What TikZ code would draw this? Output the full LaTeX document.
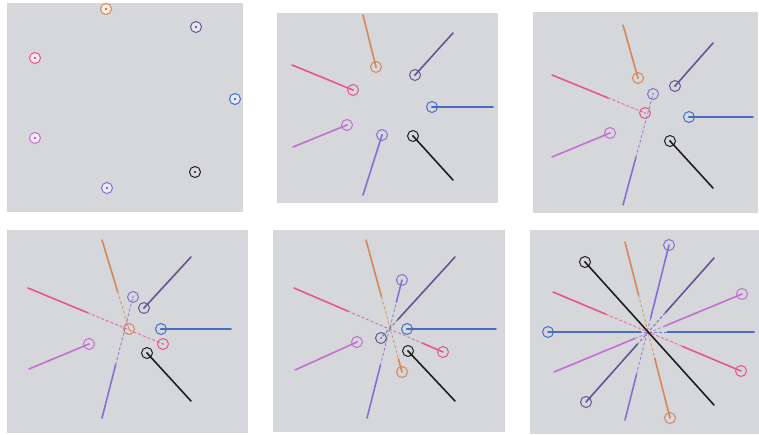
\documentclass[tikz,border=0pt]{standalone}
\usetikzlibrary{calc}
\definecolor{bgG}{RGB}{213,215,218}
\definecolor{orC}{RGB}{214,135,85}
\definecolor{puC}{RGB}{100,85,150}
\definecolor{pkC}{RGB}{228,85,145}
\definecolor{blC}{RGB}{70,110,195}
\definecolor{ocC}{RGB}{195,110,210}
\definecolor{viC}{RGB}{135,110,210}
\definecolor{bkC}{RGB}{30,30,30}
\tikzset{
  panel/.style={fill=bgG,draw=none},
  trail/.style={line width=1.6pt,line cap=round},
  dtrail/.style={line width=0.9pt,densely dashed,opacity=0.8},
  ptc/.style={circle,minimum size=11pt,inner sep=0pt,line width=1pt},
  dotc/.style={circle,fill,minimum size=2.2pt,inner sep=0pt}
}
\newcommand\trl[5]{%
  \draw[trail,#1] (#2) -- ($(#2)!#4!(#3)$);
  \draw[dtrail,#1] ($(#2)!#4!(#3)$) -- ($(#2)!#5!(#3)$);
  \draw[trail,#1] ($(#2)!#5!(#3)$) -- (#3);
  \node[ptc,draw=#1] at (#3) {};
}
\newcommand\pt[2]{%
  \node[ptc,draw=#1,fill=#1!15] at (#2) {};
  \node[dotc,#1!70!black] at (#2) {};
}
\begin{document}
\begin{tikzpicture}[x=1pt,y=-1pt]
\useasboundingbox (0,0) rectangle (759,434);
\fill[white] (0,0) rectangle (759,434);
% panels
\fill[panel] (7,3) rectangle (243,212);
\fill[panel] (277,13) rectangle (498,203);
\fill[panel] (533,12) rectangle (758,213);
\fill[panel] (7,230) rectangle (248,433);
\fill[panel] (273,230) rectangle (505,432);
\fill[panel] (530,230) rectangle (759,434);
% panel 1
\pt{orC}{106,9}
\pt{puC}{196,27}
\pt{pkC}{35,58}
\pt{blC}{235,99}
\pt{ocC}{35,138}
\pt{bkC}{195,172}
\pt{viC}{107,188}
% panel 2
\trl{orC}{363,15}{376,67}{1}{1}
\trl{puC}{453,33}{415,75}{1}{1}
\trl{pkC}{292,65}{353,90}{1}{1}
\trl{blC}{493,107}{432,107}{1}{1}
\trl{ocC}{293,147}{347,125}{1}{1}
\trl{viC}{363,195}{382,135}{1}{1}
\trl{bkC}{453,180}{413,136}{1}{1}
% panel 3
\trl{orC}{623,25}{638,78}{1}{1}
\trl{puC}{713,43}{675,86}{1}{1}
\trl{viC}{623,205}{653,94}{0.43}{1}
\trl{pkC}{552,75}{645,113}{0.6}{1}
\trl{blC}{753,117}{689,117}{1}{1}
\trl{ocC}{552,157}{610,133}{1}{1}
\trl{bkC}{713,188}{670,141}{1}{1}
% panel 4
\trl{orC}{102,240}{129,329}{0.58}{1}
\trl{pkC}{28,288}{163,344}{0.44}{1}
\trl{viC}{102,418}{133,297}{0.44}{1}
\trl{puC}{191,257}{144,308}{1}{1}
\trl{blC}{231,329}{161,329}{1}{1}
\trl{ocC}{29,369}{89,344}{1}{1}
\trl{bkC}{191,401}{147,353}{1}{1}
% panel 5
\trl{orC}{366,240}{402,372}{0.43}{0.9}
\trl{viC}{367,418}{402,280}{0.38}{0.84}
\trl{puC}{455,257}{381,338}{0.77}{1}
\trl{pkC}{294,288}{443,352}{0.36}{0.86}
\trl{blC}{496,329}{407,329}{1}{1}
\trl{ocC}{295,370}{357,342}{1}{1}
\trl{bkC}{455,401}{408,351}{1}{1}
% panel 6
\trl{viC}{625,420}{669,245}{0.26}{0.58}
\trl{orC}{625,242}{670,418}{0.3}{0.66}
\trl{puC}{714,258}{586,402}{0.38}{0.6}
\trl{pkC}{553,292}{741,371}{0.28}{0.69}
\trl{blC}{754,332}{548,332}{0.42}{0.55}
\trl{ocC}{554,372}{742,294}{0.43}{0.59}
\trl{bkC}{714,405}{585,262}{1}{1}
\end{tikzpicture}
\end{document}
